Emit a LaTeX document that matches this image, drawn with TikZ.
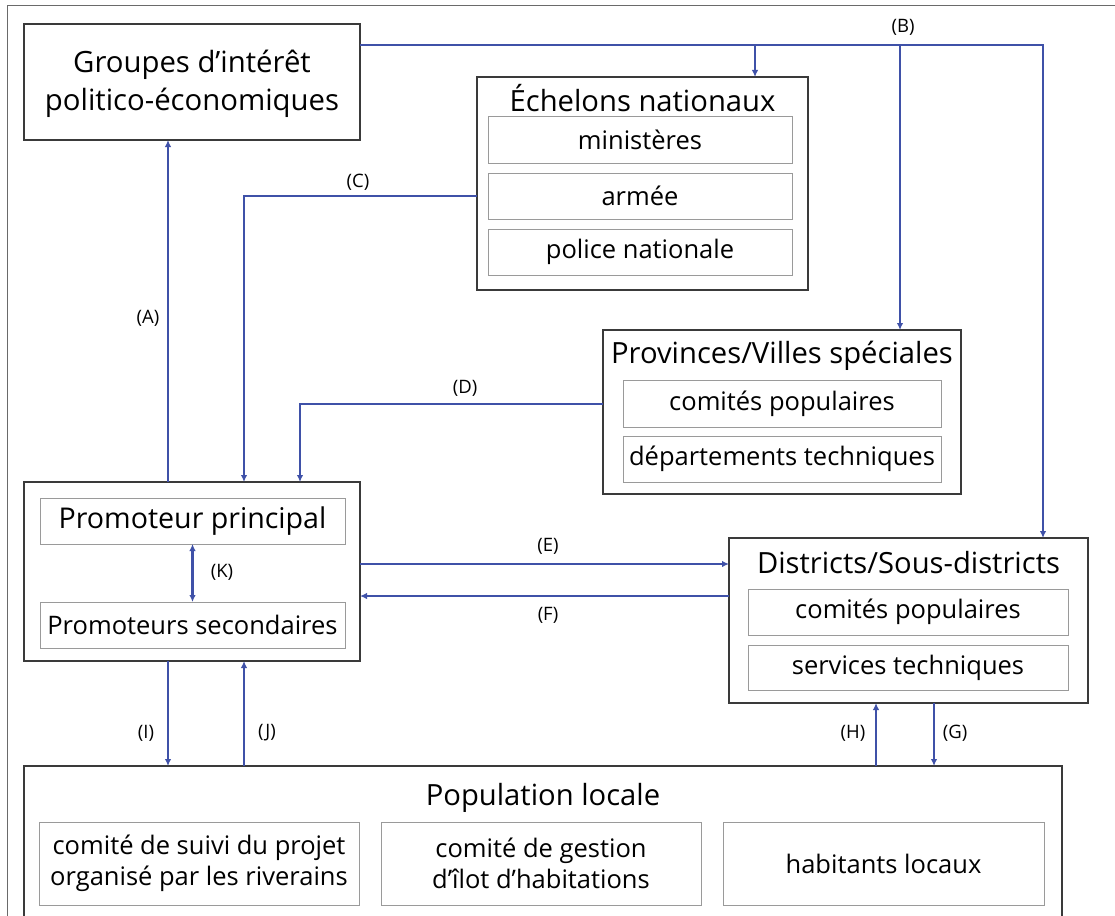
\documentclass[tikz,border=0pt]{standalone}
\usepackage{fontspec}
\setmainfont{Open Sans}
\usetikzlibrary{arrows.meta}
\definecolor{arrblue}{HTML}{3F51A8}
\definecolor{boxline}{HTML}{3A3A3A}
\definecolor{subline}{HTML}{9A9A9A}
\definecolor{frameline}{HTML}{6A6A6A}
\tikzset{
  x=1pt, y=1pt,
  bigbox/.style={draw=boxline, line width=1.5pt, inner sep=0pt, outer sep=0pt, fill=white},
  subbox/.style={draw=subline, line width=1pt, inner sep=0pt, outer sep=0pt, align=center, font=\fontsize{25.5}{31}\selectfont},
  titletext/.style={inner sep=0pt, font=\fontsize{29.2}{33}\selectfont},
  arr/.style={draw=arrblue, line width=2.6pt, -{Latex[length=7pt,width=6.5pt]}},
  lbl/.style={inner sep=0pt, font=\fontsize{18.5}{22}\selectfont},
}
\begin{document}
\begin{tikzpicture}
\useasboundingbox (0,0) rectangle (1115,-915);
\clip (0,0) rectangle (1115,-915);
\draw[frameline, line width=1pt] (7,-930) -- (7,-6) -- (1120,-6);

% Groupes
\node[bigbox, minimum width=336pt, minimum height=116pt] (grp) at (192,-82) {};
\node[titletext, align=center, font=\fontsize{29.3}{37.5}\selectfont] (grpt) at (192,-84) {Groupes d’intérêt\\politico-économiques};

% Echelons
\node[bigbox, minimum width=331pt, minimum height=213pt] (ech) at (642.5,-183.5) {};
\node[titletext] (echt) at (642.5,-98) {Échelons nationaux};
\node[subbox, minimum width=304pt, minimum height=46pt] (min) at (640,-140) {ministères};
\node[subbox, minimum width=304pt, minimum height=46pt] (arm) at (640,-196) {armée};
\node[subbox, minimum width=304pt, minimum height=46pt] (pol) at (640,-252) {police nationale};

% Provinces
\node[bigbox, minimum width=358pt, minimum height=164pt] (prov) at (782,-412) {};
\node[titletext] (provt) at (782,-356) {Provinces/Villes spéciales};
\node[subbox, minimum width=318pt, minimum height=47pt] (pcp) at (782,-403.5) {comités populaires};
\node[subbox, minimum width=318pt, minimum height=46pt] (pdt) at (782,-459) {départements techniques};

% Promoteur
\node[bigbox, minimum width=336pt, minimum height=179pt] (prom) at (192,-571.5) {};
\node[subbox, minimum width=305pt, minimum height=46pt, font=\fontsize{28.6}{32}\selectfont] (pp) at (192.5,-521) {Promoteur principal};
\node[subbox, minimum width=305pt, minimum height=46pt] (ps) at (192.5,-625) {Promoteurs secondaires};

% Districts
\node[bigbox, minimum width=359pt, minimum height=165pt] (dist) at (908.5,-620.5) {};
\node[titletext] (distt) at (908.5,-563) {Districts/Sous-districts};
\node[subbox, minimum width=320pt, minimum height=46pt] (dcp) at (908,-612) {comités populaires};
\node[subbox, minimum width=320pt, minimum height=45pt] (dst) at (908,-667.5) {services techniques};

% Population
\node[bigbox, minimum width=1038pt, minimum height=180pt, anchor=north west] (popu) at (24,-766) {};
\node[titletext] (popt) at (543,-798) {Population locale};
\node[subbox, minimum width=320pt, minimum height=83pt] (pop1) at (199,-863.5) {comité de suivi du projet\\organisé par les riverains};
\node[subbox, minimum width=320pt, minimum height=83pt] (pop2) at (541,-863.5) {comité de gestion\\d’îlot d’habitations};
\node[subbox, minimum width=321pt, minimum height=83pt] (pop3) at (883.5,-863.5) {habitants locaux};

% helper coordinates
\coordinate (xA) at (168,0);
\coordinate (xC) at (244,0);
\coordinate (xD) at (300,0);
\coordinate (yB) at (0,-45);
\coordinate (xB1) at (755,0);
\coordinate (xB2) at (900,0);
\coordinate (xB3) at (1043,0);
\coordinate (yC) at (0,-196);
\coordinate (yD) at (0,-404);
\coordinate (yE) at (0,-564);
\coordinate (yF) at (0,-596);
\coordinate (xH) at (876,0);
\coordinate (xG) at (934,0);

% (A)
\draw[arr] (prom.north -| xA) -- (grp.south -| xA);
\node[lbl] (lA) at (148,-318) {(A)};
% (B)
\draw[arr] (grp.east |- yB) -- (xB3 |- yB) -- (dist.north -| xB3);
\draw[arr] (xB1 |- yB) -- (ech.north -| xB1);
\draw[arr] (xB2 |- yB) -- (prov.north -| xB2);
\node[lbl] (lB) at (903,-27) {(B)};
% (C)
\draw[arr] (ech.west |- yC) -- (xC |- yC) -- (prom.north -| xC);
\node[lbl] (lC) at (358,-182) {(C)};
% (D)
\draw[arr] (prov.west |- yD) -- (xD |- yD) -- (prom.north -| xD);
\node[lbl] (lD) at (465,-388) {(D)};
% (E) (F)
\draw[arr] (prom.east |- yE) -- (dist.west |- yE);
\node[lbl] (lE) at (548,-546) {(E)};
\draw[arr] (dist.west |- yF) -- (prom.east |- yF);
\node[lbl] (lF) at (548,-615) {(F)};
% (K)
\draw[arr, {Latex[length=7pt,width=6.5pt]}-{Latex[length=7pt,width=6.5pt]}] (pp.south) -- (ps.north);
\node[lbl] (lK) at (222,-572) {(K)};
% (I) (J)
\draw[arr] (prom.south -| xA) -- (popu.north -| xA);
\node[lbl] (lI) at (146,-733) {(I)};
\draw[arr] (popu.north -| xC) -- (prom.south -| xC);
\node[lbl] (lJ) at (267,-733) {(J)};
% (H) (G)
\draw[arr] (popu.north -| xH) -- (dist.south -| xH);
\node[lbl] (lH) at (853,-733) {(H)};
\draw[arr] (dist.south -| xG) -- (popu.north -| xG);
\node[lbl] (lG) at (955,-733) {(G)};
\end{tikzpicture}
\end{document}
